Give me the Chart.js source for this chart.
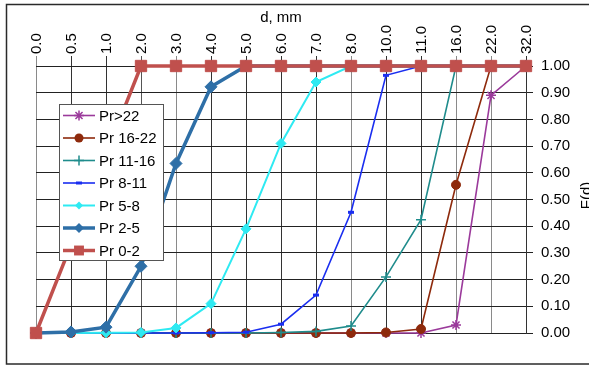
<!DOCTYPE html>
<html><head><meta charset="utf-8">
<script src="https://cdn.jsdelivr.net/npm/chart.js@4/dist/chart.umd.min.js"></script>
<style>html,body{margin:0;padding:0;background:#fff}#wrap{width:589px;height:366px;position:relative}</style>
</head><body><div id="wrap"><canvas id="c"></canvas></div>
<script>
const categories = ['0.0','0.5','1.0','2.0','3.0','4.0','5.0','6.0','7.0','8.0','10.0','11.0','16.0','22.0','32.0'];
const pr0_2   = [0, 0.33, 0.67, 1, 1, 1, 1, 1, 1, 1, 1, 1, 1, 1, 1];
const pr2_5   = [0, 0.004, 0.022, 0.25, 0.635, 0.922, 1, 1, 1, 1, 1, 1, 1, 1, 1];
const pr5_8   = [0, 0, 0.001, 0.002, 0.019, 0.11, 0.39, 0.71, 0.94, 1, 1, 1, 1, 1, 1];
const pr8_11  = [0, 0, 0, 0, 0, 0.001, 0.003, 0.033, 0.142, 0.452, 0.965, 1, 1, 1, 1];
const pr11_16 = [0, 0, 0, 0, 0, 0, 0, 0.002, 0.006, 0.026, 0.21, 0.424, 1, 1, 1];
const pr16_22 = [0, 0, 0, 0, 0, 0, 0, 0, 0, 0, 0.002, 0.015, 0.555, 1, 1];
const prGt22  = [0, 0, 0, 0, 0, 0, 0, 0, 0, 0, 0, 0, 0.03, 0.89, 1];
const yTicks  = [0, 0.1, 0.2, 0.3, 0.4, 0.5, 0.6, 0.7, 0.8, 0.9, 1.0];
const xTitle = 'd, mm';
const yTitle = 'F(d)';

const FONT = '"Liberation Sans", Arial, sans-serif';

function ds(label, data, color, style, radius, lineW, pbw) {
  return {
    label, data, borderColor: color, backgroundColor: color,
    pointStyle: style, pointRadius: radius, pointHoverRadius: radius,
    pointBackgroundColor: color, pointBorderColor: color, pointBorderWidth: pbw,
    borderWidth: lineW, tension: 0, clip: false, fill: false
  };
}

const datasets = [
  ds('Pr 0-2', pr0_2, '#C0504D', 'rect', 8, 3.5, 1),
  ds('Pr 2-5', pr2_5, '#2E6FA7', 'rectRot', 6, 3.5, 1),
  ds('Pr 5-8', pr5_8, '#2EEAF2', 'rectRot', 5, 2, 1),
  ds('Pr 8-11', pr8_11, '#1A2EF0', 'line', 3, 1.6, 3),
  ds('Pr 11-16', pr11_16, '#1F8C8C', 'cross', 5, 1.6, 1.5),
  ds('Pr 16-22', pr16_22, '#8E2A0C', 'circle', 4.5, 1.6, 1),
  ds('Pr>22', prGt22, '#9B3A9B', 'star', 5, 1.6, 1.5)
];

function drawMarker(ctx, style, x, y, r, color, bw) {
  ctx.save();
  ctx.fillStyle = color; ctx.strokeStyle = color; ctx.lineWidth = bw;
  ctx.beginPath();
  if (style === 'rect') {
    const s = r * Math.SQRT1_2;
    ctx.rect(x - s, y - s, 2 * s, 2 * s); ctx.fill();
  } else if (style === 'rectRot') {
    ctx.moveTo(x, y - r); ctx.lineTo(x + r, y); ctx.lineTo(x, y + r); ctx.lineTo(x - r, y); ctx.closePath(); ctx.fill();
  } else if (style === 'circle') {
    ctx.arc(x, y, r, 0, Math.PI * 2); ctx.fill();
  } else if (style === 'line') {
    ctx.moveTo(x - r, y); ctx.lineTo(x + r, y); ctx.stroke();
  } else if (style === 'cross') {
    ctx.moveTo(x, y - r); ctx.lineTo(x, y + r); ctx.moveTo(x - r, y); ctx.lineTo(x + r, y); ctx.stroke();
  } else if (style === 'star') {
    const d = r * Math.SQRT1_2;
    ctx.moveTo(x, y - r); ctx.lineTo(x, y + r); ctx.moveTo(x - r, y); ctx.lineTo(x + r, y);
    ctx.moveTo(x - d, y - d); ctx.lineTo(x + d, y + d); ctx.moveTo(x - d, y + d); ctx.lineTo(x + d, y - d);
    ctx.stroke();
  }
  ctx.restore();
}

const decor = {
  id: 'decor',
  beforeDraw(chart) {
    const ctx = chart.ctx;
    ctx.save();
    ctx.fillStyle = '#fff';
    ctx.fillRect(0, 0, chart.width, chart.height);
    ctx.restore();
  },
  afterDraw(chart) {
    const ctx = chart.ctx;
    const ca = chart.chartArea;
    const xs = chart.scales.x;
    ctx.save();
    // frame
    ctx.strokeStyle = '#2a2a2a'; ctx.lineWidth = 1.5;
    ctx.strokeRect(6.5, 4.5, 620, 359.5);
    // x tick labels (rotated, reading upward)
    ctx.fillStyle = '#000';
    ctx.font = '15px ' + FONT;
    ctx.textAlign = 'left'; ctx.textBaseline = 'middle';
    chart.data.labels.forEach((lab, i) => {
      const x = xs.getPixelForTick(i);
      ctx.save();
      ctx.translate(x + 1, ca.top - 12);
      ctx.rotate(-Math.PI / 2);
      ctx.fillText(lab, 0, 0);
      ctx.restore();
    });
    // titles
    ctx.textAlign = 'center'; ctx.textBaseline = 'middle';
    ctx.fillText(xTitle, (ca.left + ca.right) / 2, 18);
    ctx.save();
    ctx.translate(587, (ca.top + ca.bottom) / 2 - 4);
    ctx.rotate(-Math.PI / 2);
    ctx.fillText(yTitle, 0, 0);
    ctx.restore();
    // legend
    const bx = 59.5, by = 104.5, bw = 104, bh = 156;
    ctx.fillStyle = '#fff'; ctx.fillRect(bx, by, bw, bh);
    ctx.strokeStyle = '#555'; ctx.lineWidth = 1; ctx.strokeRect(bx, by, bw, bh);
    const items = chart.data.datasets.slice().reverse();
    items.forEach((d, i) => {
      const y = 115.5 + i * 22.5;
      ctx.save();
      ctx.strokeStyle = d.borderColor; ctx.lineWidth = d.borderWidth;
      ctx.beginPath(); ctx.moveTo(63, y); ctx.lineTo(95, y); ctx.stroke();
      ctx.restore();
      let r = d.pointRadius;
      if (d.pointStyle === 'rect') r = 7;
      if (d.pointStyle === 'rectRot') r = d.pointRadius - 1;
      drawMarker(ctx, d.pointStyle, 79, y, r, d.pointBorderColor, d.pointBorderWidth);
      ctx.fillStyle = '#000'; ctx.font = '15px ' + FONT;
      ctx.textAlign = 'left'; ctx.textBaseline = 'middle';
      ctx.fillText(d.label, 99, y + 1);
    });
    ctx.restore();
  }
};

const vGridColors = ['#8a8a8a','#333','#333','#555','#8a8a8a','#333','#333','#333','#333','#8a8a8a','#333','#333','#8a8a8a','#8a8a8a','#333'];

new Chart(document.getElementById('c'), {
  type: 'line',
  data: { labels: categories, datasets },
  options: {
    responsive: true, maintainAspectRatio: false, animation: false,
    layout: { padding: { left: 36, bottom: 33, top: 0, right: 0 } },
    plugins: { legend: { display: false }, tooltip: { enabled: false }, title: { display: false } },
    scales: {
      x: {
        type: 'category', position: 'top', offset: false,
        afterFit(s) { s.height = 66; },
        grid: { color: (c) => vGridColors[c.index] || '#333', lineWidth: 1, drawTicks: true, tickLength: 10 },
        border: { display: false },
        ticks: { display: false, autoSkip: false }
      },
      y: {
        position: 'right', min: 0, max: 1,
        afterFit(s) { s.width = 63; },
        afterBuildTicks(s) { s.ticks = yTicks.map(v => ({ value: v })); },
        grid: { color: '#222', lineWidth: 1, drawTicks: true, tickLength: 7 },
        border: { display: true, color: '#333', width: 1 },
        ticks: { color: '#000', font: { family: FONT, size: 15 }, padding: 8, callback: (v) => Number(v).toFixed(2) }
      }
    }
  },
  plugins: [decor]
});
</script></body></html>
